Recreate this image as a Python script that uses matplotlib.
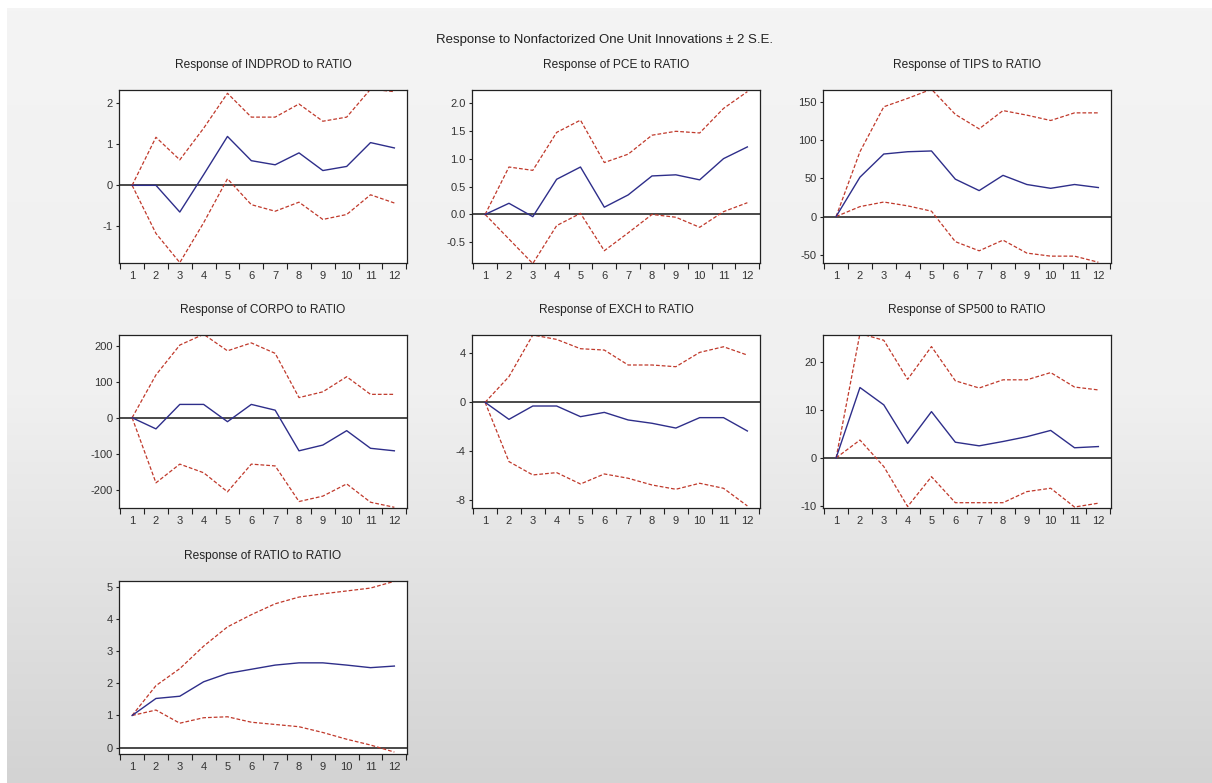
import numpy as np
import matplotlib
matplotlib.use("Agg")
import matplotlib.pyplot as plt
from matplotlib.ticker import FixedLocator, NullFormatter, FixedFormatter
from matplotlib.colors import LinearSegmentedColormap

plt.rcParams['font.family'] = ['Liberation Sans', 'DejaVu Sans']

periods = list(range(1, 13))

indprod_mean = [0, 0, -0.65, 0.26, 1.19, 0.60, 0.50, 0.79, 0.36, 0.46, 1.04, 0.91]
indprod_up = [0, 1.17, 0.62, 1.39, 2.24, 1.66, 1.66, 1.98, 1.56, 1.66, 2.34, 2.28]
indprod_lo = [0, -1.17, -1.88, -0.91, 0.16, -0.47, -0.63, -0.41, -0.83, -0.71, -0.23, -0.43]

pce_mean = [0, 0.20, -0.04, 0.63, 0.85, 0.13, 0.35, 0.69, 0.71, 0.62, 1.00, 1.21]
pce_up = [0, 0.85, 0.79, 1.47, 1.69, 0.93, 1.08, 1.42, 1.49, 1.46, 1.90, 2.20]
pce_lo = [0, -0.44, -0.88, -0.20, 0.02, -0.65, -0.33, 0.00, -0.05, -0.23, 0.05, 0.21]

tips_mean = [0, 51.6, 82, 85, 86, 49, 34, 54, 42, 37, 42, 38]
tips_up = [0, 85, 144, 155, 167, 134, 115, 139, 133, 126, 136, 136]
tips_lo = [0, 13, 19, 14, 7, -33, -45, -31, -48, -52, -52, -60]

corpo_mean = [0, -31, 37, 37, -11, 37, 21, -92, -76, -36, -85, -92]
corpo_up = [0, 119, 202, 232, 186, 208, 179, 56, 72, 114, 65, 65]
corpo_lo = [0, -181, -129, -153, -206, -129, -134, -233, -218, -184, -235, -249]

exch_mean = [0, -1.39, -0.30, -0.30, -1.17, -0.82, -1.44, -1.71, -2.10, -1.25, -1.25, -2.34]
exch_up = [0, 2.10, 5.50, 5.14, 4.38, 4.27, 3.05, 3.05, 2.91, 4.08, 4.54, 3.86]
exch_lo = [0, -4.84, -5.93, -5.74, -6.67, -5.85, -6.20, -6.75, -7.10, -6.61, -7.02, -8.46]

sp500_mean = [0, 14.6, 11.0, 3.0, 9.6, 3.25, 2.5, 3.4, 4.4, 5.7, 2.1, 2.35]
sp500_up = [0, 25.8, 24.4, 16.3, 23.1, 16.0, 14.5, 16.2, 16.2, 17.7, 14.7, 14.1]
sp500_lo = [0, 3.7, -1.8, -10.1, -3.9, -9.3, -9.3, -9.3, -7.0, -6.3, -10.2, -9.4]

ratio_mean = [1.0, 1.53, 1.60, 2.05, 2.31, 2.44, 2.57, 2.64, 2.64, 2.57, 2.49, 2.54]
ratio_up = [1.0, 1.93, 2.46, 3.16, 3.76, 4.14, 4.48, 4.69, 4.79, 4.88, 4.97, 5.18]
ratio_lo = [1.0, 1.17, 0.76, 0.93, 0.96, 0.79, 0.72, 0.65, 0.47, 0.26, 0.08, -0.14]

titles = ["Response of INDPROD to RATIO", "Response of PCE to RATIO", "Response of TIPS to RATIO",
          "Response of CORPO to RATIO", "Response of EXCH to RATIO", "Response of SP500 to RATIO",
          "Response of RATIO to RATIO"]
ylims = [(-1.89, 2.32), (-0.87, 2.23), (-61, 166), (-251, 230), (-8.63, 5.5), (-10.4, 25.5), (-0.2, 5.19)]
yticks = [[-1, 0, 1, 2], [-0.5, 0.0, 0.5, 1.0, 1.5, 2.0], [-50, 0, 50, 100, 150],
          [-200, -100, 0, 100, 200], [-8, -4, 0, 4], [-10, 0, 10, 20], [0, 1, 2, 3, 4, 5]]
ylabels = [["-1", "0", "1", "2"], ["-0.5", "0.0", "0.5", "1.0", "1.5", "2.0"],
           ["-50", "0", "50", "100", "150"], ["-200", "-100", "0", "100", "200"],
           ["-8", "-4", "0", "4"], ["-10", "0", "10", "20"], ["0", "1", "2", "3", "4", "5"]]
series = [(indprod_mean, indprod_up, indprod_lo), (pce_mean, pce_up, pce_lo),
          (tips_mean, tips_up, tips_lo), (corpo_mean, corpo_up, corpo_lo),
          (exch_mean, exch_up, exch_lo), (sp500_mean, sp500_up, sp500_lo),
          (ratio_mean, ratio_up, ratio_lo)]

W, H = 1212, 783
fig = plt.figure(figsize=(W / 100, H / 100), dpi=100, facecolor='white')

# gradient background
bg = fig.add_axes([7 / W, 0, 1 - 7 / W, 1 - 8 / H], zorder=-10)
grad = np.linspace(0, 1, 256).reshape(-1, 1)
cmap = LinearSegmentedColormap.from_list('bg', ['#f4f4f4', '#f0f0f0', '#d3d3d3'])
bg.imshow(grad, aspect='auto', cmap=cmap, extent=[0, 1, 0, 1], origin='upper')
bg.axis('off')

col_left = [119, 472, 823]
row_top = [90, 335, 581]
aw, ah = 288, 173

fig.text(605 / W, 1 - 40 / H, "Response to Nonfactorized One Unit Innovations \u00b1 2 S.E.",
         ha='center', va='center', fontsize=9.5, color='#222222')

for i, (m, u, l) in enumerate(series):
    r, c = divmod(i, 3)
    x0, y0 = col_left[c], row_top[r]
    ax = fig.add_axes([x0 / W, 1 - (y0 + ah) / H, aw / W, ah / H])
    ax.set_facecolor('white')
    ax.axhline(0, color='#3a3a3a', lw=1.3, zorder=1)
    ax.plot(periods, u, color='#c0392b', lw=0.9, ls=(0, (3, 1.6)), zorder=2)
    ax.plot(periods, l, color='#c0392b', lw=0.9, ls=(0, (3, 1.6)), zorder=2)
    ax.plot(periods, m, color='#2e2e8a', lw=1.0, zorder=3)
    ax.set_xlim(0.45, 12.53)
    ax.set_ylim(*ylims[i])
    ax.xaxis.set_major_locator(FixedLocator(np.arange(0.5, 13, 1.0)))
    ax.xaxis.set_major_formatter(NullFormatter())
    ax.xaxis.set_minor_locator(FixedLocator(periods))
    ax.xaxis.set_minor_formatter(FixedFormatter([str(p) for p in periods]))
    ax.tick_params(axis='x', which='major', direction='out', length=4, width=0.8, color='#222222')
    ax.tick_params(axis='x', which='minor', length=0, pad=6, labelsize=8, labelcolor='#333333')
    ax.set_yticks(yticks[i])
    ax.set_yticklabels(ylabels[i])
    ax.tick_params(axis='y', direction='out', length=2.5, width=0.8, pad=2, labelsize=8,
                   labelcolor='#333333', color='#222222')
    for s in ax.spines.values():
        s.set_color('#222222')
        s.set_linewidth(0.9)
    fig.text((x0 + aw / 2) / W, 1 - (y0 - 25) / H, titles[i], ha='center', va='center',
             fontsize=8.6, color='#222222')

fig.savefig('out.png', dpi=100, facecolor='white')
